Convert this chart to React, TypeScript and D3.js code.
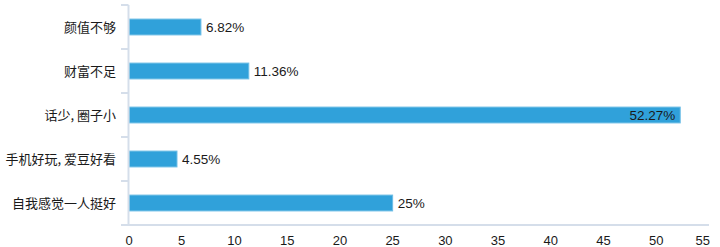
import React from "react";
import * as d3 from "d3";

const categories = ["颜值不够", "财富不足", "话少，圈子小", "手机好玩，爱豆好看", "自我感觉一人挺好"];
const displayLabels = ["颜值不够", "财富不足", "话少, 圈子小", "手机好玩, 爱豆好看", "自我感觉一人挺好"];
const values = [6.82, 11.36, 52.27, 4.55, 25];
const valueLabels = ["6.82%", "11.36%", "52.27%", "4.55%", "25%"];
const xTicks = [0, 5, 10, 15, 20, 25, 30, 35, 40, 45, 50, 55];

const W = 720;
const H = 247;
const FONT = "'Liberation Sans', Arial, 'Noto Sans CJK SC', sans-serif";
const AXIS = "#D5DEEA";
const BAR = "#30A1DA";
const BAR_STROKE = "#6DBDE6";

export default function App() {
  const x = d3.scaleLinear().domain([0, 55]).range([129, 709]);
  const y = d3.scaleBand<string>().domain(categories).range([5, 225]).paddingInner(0.64).paddingOuter(0.32);
  const yOuter = d3.scaleBand<string>().domain(categories).range([5, 225]);
  const boundaries = [5, ...categories.map((c) => (yOuter(c) as number) + yOuter.bandwidth())];

  return (
    <svg
      width={W}
      height={H}
      style={{ position: "absolute", left: 0, top: 0, fontFamily: FONT }}
    >
      <rect width={W} height={H} fill="#fff" />
      {/* bars */}
      {categories.map((c, i) => {
        const y0 = y(c) as number;
        const bw = y.bandwidth();
        const x1 = x(values[i]);
        const inside = i === 2;
        return (
          <g key={c}>
            <rect
              x={x(0)}
              y={y0}
              width={x1 - x(0)}
              height={bw}
              fill={BAR}
              stroke={BAR_STROKE}
              strokeWidth={1}
            />
            <text
              x={inside ? x1 - 5 : x1 + 5}
              y={y0 + bw / 2}
              dy="0.35em"
              textAnchor={inside ? "end" : "start"}
              fontSize={13.5}
              fill="#1a1a1a"
            >
              {valueLabels[i]}
            </text>
            <text
              x={116}
              y={y0 + bw / 2}
              dy="0.35em"
              textAnchor="end"
              fontSize={13}
              fill="#1a1a1a"
              fontFamily="'Noto Sans CJK SC', sans-serif"
            >
              {displayLabels[i]}
            </text>
          </g>
        );
      })}
      {/* y axis */}
      <line x1={128.5} x2={128.5} y1={5} y2={225} stroke={AXIS} strokeWidth={2} />
      {boundaries.map((b, i) => (
        <line key={i} x1={121} x2={128.5} y1={b} y2={b} stroke={AXIS} strokeWidth={2} />
      ))}
      {/* x axis */}
      <line x1={121} x2={709} y1={225} y2={225} stroke={AXIS} strokeWidth={2} />
      {xTicks.map((t, i) => {
        const last = i === xTicks.length - 1;
        return (
          <text
            key={t}
            x={last ? 710 : x(t)}
            y={245}
            textAnchor={last ? "end" : "middle"}
            fontSize={13}
            fill="#1a1a1a"
          >
            {t}
          </text>
        );
      })}
    </svg>
  );
}
